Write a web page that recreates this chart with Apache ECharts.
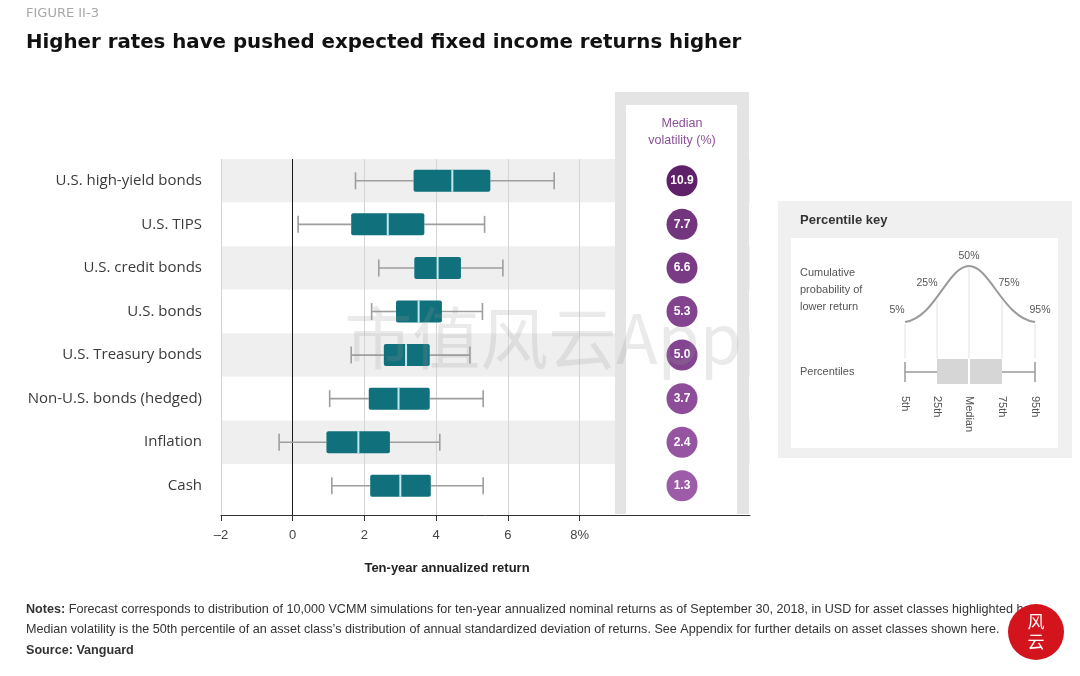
<!DOCTYPE html>
<html>
<head>
<meta charset="utf-8">
<script src="https://cdn.jsdelivr.net/npm/echarts@6/dist/echarts.min.js"></script>
<style>html,body{margin:0;padding:0;background:#fff}#c{width:1080px;height:676px}</style>
</head>
<body>
<div id="c"></div>
<script>
const categories = ['U.S. high-yield bonds','U.S. TIPS','U.S. credit bonds','U.S. bonds','U.S. Treasury bonds','Non-U.S. bonds (hedged)','Inflation','Cash'];
const p5  = [1.75, 0.15, 2.40, 2.20, 1.63, 1.03, -0.38, 1.09];
const p25 = [3.37, 1.63, 3.39, 2.88, 2.54, 2.12, 0.94, 2.16];
const p50 = [4.45, 2.65, 4.04, 3.51, 3.16, 2.95, 1.83, 3.00];
const p75 = [5.51, 3.67, 4.69, 4.16, 3.82, 3.82, 2.71, 3.85];
const p95 = [7.29, 5.35, 5.86, 5.29, 4.94, 5.31, 4.10, 5.31];
const volatility = [10.9, 7.7, 6.6, 5.3, 5.0, 3.7, 2.4, 1.3];
const xTicks = [-2, 0, 2, 4, 6, 8];
const catIdx = categories.map((c, i) => i);

const boxData = catIdx.map(i => [i, p5[i], p25[i], p50[i], p75[i], p95[i]]);
const volData = catIdx.map(i => [0, i, volatility[i]]);

const chart = echarts.init(document.getElementById('c'));
const grey = '#9e9e9e';
const teal = '#10707b';

function renderBox(params, api) {
  const i = api.value(0);
  const y = api.coord([0, i])[1];
  const xs = [1, 2, 3, 4, 5].map(k => api.coord([api.value(k), i])[0]);
  const bh = 22, ch = 17;
  const ls = { stroke: grey, lineWidth: 1.6 };
  return {
    type: 'group',
    children: [
      { type: 'line', shape: { x1: xs[0], y1: y, x2: xs[1], y2: y }, style: ls },
      { type: 'line', shape: { x1: xs[3], y1: y, x2: xs[4], y2: y }, style: ls },
      { type: 'line', shape: { x1: xs[0], y1: y - ch / 2, x2: xs[0], y2: y + ch / 2 }, style: ls },
      { type: 'line', shape: { x1: xs[4], y1: y - ch / 2, x2: xs[4], y2: y + ch / 2 }, style: ls },
      { type: 'rect', shape: { x: xs[1], y: y - bh / 2, width: xs[3] - xs[1], height: bh, r: 2 }, style: { fill: teal } },
      { type: 'line', shape: { x1: xs[2], y1: y - bh / 2, x2: xs[2], y2: y + bh / 2 }, style: { stroke: '#bfeaf0', lineWidth: 2 } }
    ]
  };
}

const gridLineColors = ['#d4d4d4', '#1a1a1a', '#d4d4d4', '#d4d4d4', '#d4d4d4', '#d4d4d4', '#d4d4d4', '#d4d4d4', '#d4d4d4'];
const stripeColors = ['#efefef', '#ffffff', '#efefef', '#ffffff', '#efefef', '#ffffff', '#efefef', '#ffffff', '#ffffff'];

const keyX = [905, 937, 969, 1002, 1035];
const keyLabels = ['5th', '25th', 'Median', '75th', '95th'];
const keyPct = ['5%', '25%', '50%', '75%', '95%'];

function txt(x, y, text, font, fill, align, extra) {
  return Object.assign({ type: 'text', x: x, y: y, style: { text: text, font: font, fill: fill, textAlign: align || 'left', textVerticalAlign: 'middle' } }, extra || {});
}

const graphics = [
  txt(26, 14, 'FIGURE II-3', '13px "DejaVu Sans"', '#a8a8a8'),
  txt(26, 43, 'Higher rates have pushed expected fixed income returns higher', 'bold 19.8px "DejaVu Sans"', '#111'),
  // volatility column
  { type: 'rect', z: 10, shape: { x: 615, y: 92, width: 134, height: 422 }, style: { fill: '#e4e4e4' } },
  { type: 'rect', z: 11, shape: { x: 626, y: 105, width: 111, height: 409 }, style: { fill: '#ffffff' } },
  txt(682, 124, 'Median', '12.5px "Liberation Sans"', '#8a4f96', 'center', { z: 12 }),
  txt(682, 141, 'volatility (%)', '12.5px "Liberation Sans"', '#8a4f96', 'center', { z: 12 }),
  // axis name
  txt(447, 568, 'Ten-year annualized return', 'bold 13px "Liberation Sans"', '#222', 'center'),
  // percentile key
  { type: 'rect', shape: { x: 778, y: 201, width: 294, height: 257 }, style: { fill: '#f0f0f0' } },
  { type: 'rect', shape: { x: 791, y: 238, width: 267, height: 210 }, style: { fill: '#ffffff' } },
  txt(800, 220, 'Percentile key', 'bold 13px "Liberation Sans"', '#333'),
  txt(800, 273, 'Cumulative', '11px "Liberation Sans"', '#555'),
  txt(800, 290, 'probability of', '11px "Liberation Sans"', '#555'),
  txt(800, 307, 'lower return', '11px "Liberation Sans"', '#555'),
  txt(800, 372, 'Percentiles', '11px "Liberation Sans"', '#555'),
  { type: 'bezierCurve', shape: { x1: 905, y1: 322, cpx1: 935, cpy1: 318, cpx2: 948, cpy2: 266, x2: 969, y2: 266 }, style: { fill: null, stroke: '#9a9a9a', lineWidth: 2 } },
  { type: 'bezierCurve', shape: { x1: 969, y1: 266, cpx1: 990, cpy1: 266, cpx2: 1003, cpy2: 318, x2: 1035, y2: 322 }, style: { fill: null, stroke: '#9a9a9a', lineWidth: 2 } },
  { type: 'line', shape: { x1: 905, y1: 372, x2: 1035, y2: 372 }, style: { stroke: '#9a9a9a', lineWidth: 1.5 } },
  { type: 'line', shape: { x1: 905, y1: 362, x2: 905, y2: 382 }, style: { stroke: '#9a9a9a', lineWidth: 1.5 } },
  { type: 'line', shape: { x1: 1035, y1: 362, x2: 1035, y2: 382 }, style: { stroke: '#9a9a9a', lineWidth: 1.5 } },
  { type: 'rect', z: 2, shape: { x: 937, y: 359, width: 65, height: 25 }, style: { fill: '#d6d6d6' } },
  { type: 'line', z: 3, shape: { x1: 969, y1: 359, x2: 969, y2: 384 }, style: { stroke: '#fff', lineWidth: 2 } },
  // notes
  { type: 'text', x: 26, y: 610, style: { text: '{b|Notes:} Forecast corresponds to distribution of 10,000 VCMM simulations for ten-year annualized nominal returns as of September 30, 2018, in USD for asset classes highlighted here.', fill: '#333', font: '12.6px "Liberation Sans"', textVerticalAlign: 'middle', rich: { b: { fontWeight: 'bold', fontFamily: 'Liberation Sans', fontSize: 12.6, fill: '#333' } } } },
  txt(26, 630, 'Median volatility is the 50th percentile of an asset class\u2019s distribution of annual standardized deviation of returns. See Appendix for further details on asset classes shown here.', '12.6px "Liberation Sans"', '#333'),
  txt(26, 651, 'Source: Vanguard', 'bold 12.6px "Liberation Sans"', '#333'),
  // watermark and seal
  txt(543, 338, '市值风云App', '68px "Noto Sans CJK SC"', 'rgba(150,150,150,0.2)', 'center', { z: 30 }),
  { type: 'circle', z: 30, shape: { cx: 1036, cy: 632, r: 28 }, style: { fill: '#d3141c' } },
  { type: 'text', z: 31, x: 1036, y: 632, style: { text: '风\n云', fill: '#fff', font: '17px "Noto Sans CJK SC"', textAlign: 'center', textVerticalAlign: 'middle', lineHeight: 20 } }
];
keyX.forEach((x, k) => {
  graphics.push({ type: 'line', z: 1, shape: { x1: x, y1: k === 2 ? 268 : (k === 1 || k === 3 ? 300 : 324), x2: x, y2: 358 }, style: { stroke: '#e2e2e2', lineWidth: 1 } });
  graphics.push({ type: 'text', x: x, y: 396, rotation: -Math.PI / 2, style: { text: keyLabels[k], fill: '#555', font: '11px "Liberation Sans"', textAlign: 'left', textVerticalAlign: 'middle' } });
});
[[897, 310], [927, 283], [969, 256], [1009, 283], [1040, 310]].forEach((p, k) => {
  graphics.push(txt(p[0], p[1], keyPct[k], '10.5px "Liberation Sans"', '#555', 'center'));
});

chart.setOption({
  animation: false,
  backgroundColor: '#fff',
  grid: [
    { left: 221, right: 330, top: 159, bottom: 161 },
    { left: 615, right: 331, top: 159, bottom: 161 }
  ],
  xAxis: [
    {
      type: 'value', gridIndex: 0, min: -2, max: 12.75, interval: 2,
      axisLine: { show: true, onZero: false, lineStyle: { color: '#333', width: 1 } },
      axisTick: { show: true, length: 6, customValues: xTicks, lineStyle: { color: '#333' } },
      axisLabel: { customValues: xTicks, margin: 14, color: '#444', fontSize: 13, fontFamily: 'Liberation Sans',
        formatter: v => v === 8 ? '8%' : (v < 0 ? '\u2013' + Math.abs(v) : String(v)) },
      splitLine: { show: true, lineStyle: { color: gridLineColors, width: 1 } }
    },
    { type: 'category', gridIndex: 1, data: ['vol'], show: false }
  ],
  yAxis: [
    {
      type: 'value', gridIndex: 0, min: -0.5, max: 7.67, interval: 1, inverse: true,
      axisLine: { show: false, onZero: false }, axisTick: { show: false },
      axisLabel: { customValues: catIdx, formatter: v => categories[v] || '', color: '#3a3a3a', fontSize: 15, fontFamily: 'Open Sans', margin: 19 },
      splitLine: { show: false },
      splitArea: { show: true, areaStyle: { color: stripeColors } }
    },
    { type: 'value', gridIndex: 1, min: -0.5, max: 7.67, inverse: true, show: false }
  ],
  visualMap: { show: false, seriesIndex: 1, dimension: 2, min: 1.3, max: 10.9, inRange: { color: ['#9c5ca8', '#5f2169'] } },
  series: [
    { type: 'custom', xAxisIndex: 0, yAxisIndex: 0, renderItem: renderBox, encode: { x: [1, 2, 3, 4, 5], y: 0 }, data: boxData, z: 3 },
    { type: 'scatter', xAxisIndex: 1, yAxisIndex: 1, symbolSize: 31, z: 20, data: volData, itemStyle: { opacity: 1 },
      label: { show: true, position: 'inside', formatter: p => p.value[2].toFixed(1), color: '#fff', fontWeight: 'bold', fontSize: 12, fontFamily: 'Liberation Sans' } }
  ],
  graphic: graphics
});
</script>
</body>
</html>
